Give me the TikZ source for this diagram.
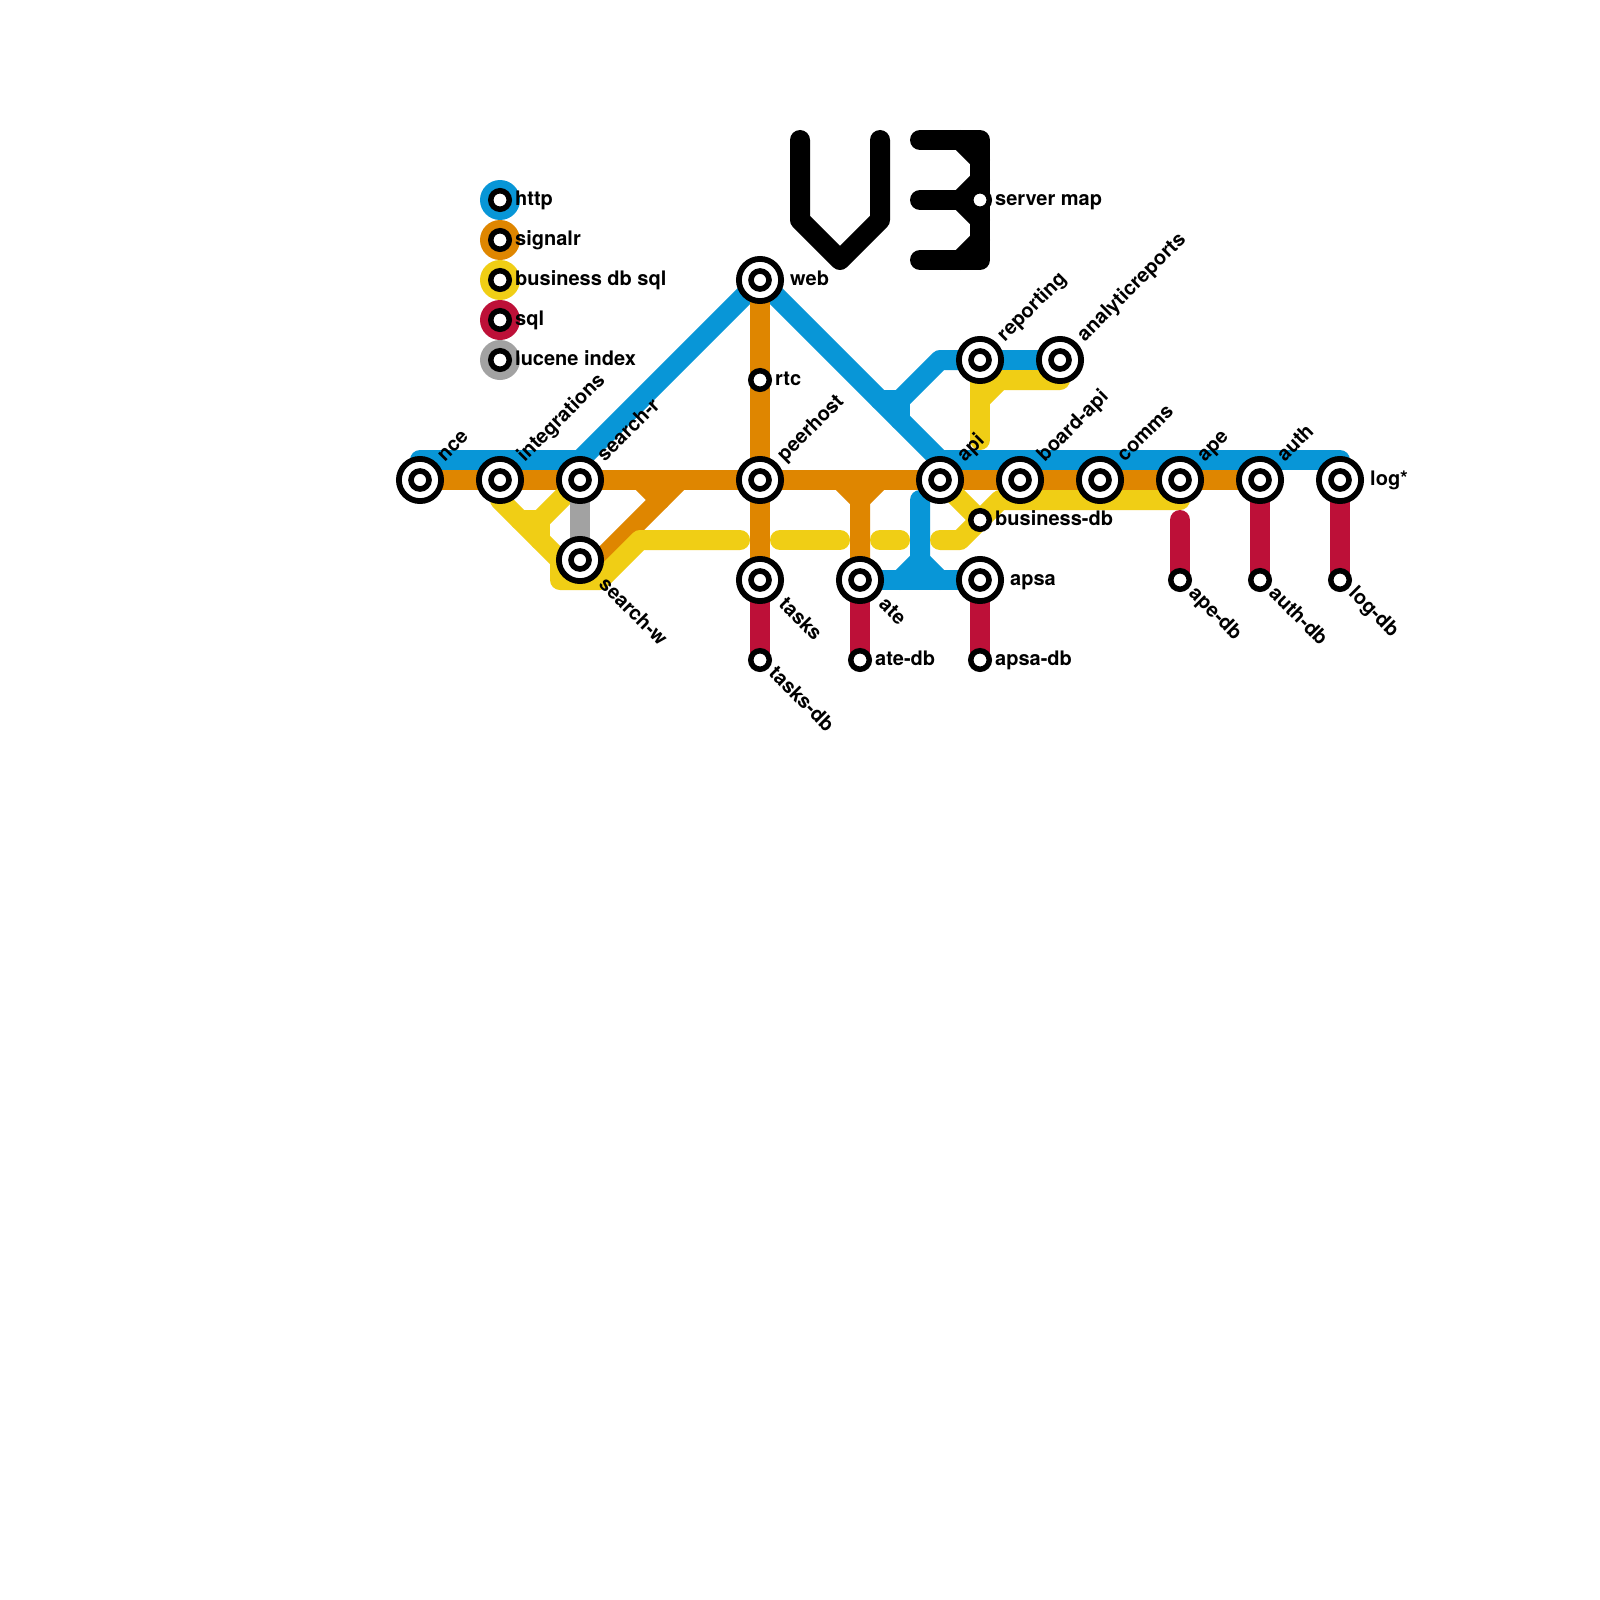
\documentclass[tikz,border=0pt]{standalone}
\usepackage{fontspec}
\setmainfont{TeX Gyre Heros}
\pgfdeclarelayer{lines}
\pgfsetlayers{lines,main}
\definecolor{http}{HTML}{0896D7}
\definecolor{signalr}{HTML}{DF8600}
\definecolor{bizdb}{HTML}{F0CE15}
\definecolor{sqlred}{HTML}{BD1038}
\definecolor{lucene}{HTML}{A2A2A2}
\tikzset{
  route/.style={line width=20pt,line cap=round,line join=round},
  bigstation/.style={circle,draw=black,fill=white,line width=5.8pt,minimum size=42.2pt,inner sep=0pt,
    path picture={\draw[black,line width=5.6pt] (path picture bounding box.center) circle (9pt);}},
  smallstation/.style={circle,draw=black,fill=white,line width=5.5pt,minimum size=18.5pt,inner sep=0pt},
  swatch/.style={circle,fill=#1,minimum size=40pt,inner sep=0pt},
  lbl/.style={font=\bfseries\fontsize{20}{24}\selectfont,inner sep=0pt,anchor=base west,text=black},
  lblup/.style={lbl,rotate=45},
  lbldown/.style={lbl,rotate=-45},
}
\begin{document}
\begin{tikzpicture}[x=1pt,y=-1pt]
\useasboundingbox (0,0) rectangle (1600,1600);
\begin{pgfonlayer}{lines}
\fill[white] (0,0) rectangle (1600,1600);
\end{pgfonlayer}
% big stations
\foreach \n/\x/\y in {nce/420/480,integrations/500/480,searchr/580/480,searchw/580/560,web/760/280,peerhost/760/480,tasks/760/580,ate/860/580,api/940/480,boardapi/1020/480,comms/1100/480,ape/1180/480,auth/1260/480,logs/1340/480,apsa/980/580,reporting/980/360,analytic/1060/360}
  {\node[bigstation] (\n) at (\x,\y) {};}
% small stations
\foreach \n/\x/\y in {rtc/760/380,tasksdb/760/660,atedb/860/660,apsadb/980/660,businessdb/980/520,apedb/1180/580,authdb/1260/580,logdb/1340/580,servermap/980/200}
  {\node[smallstation] (\n) at (\x,\y) {};}
% waypoints
\foreach \n/\x/\y in {
 b1/420/460,b2/580/460,b3/880/400,b4/900/400,b5/900/420,b6/940/360,b7/940/460,b8/1340/460,
 b9/920/500,b10/920/560,b11/900/580,b12/940/580,
 o1/680/480,o2/600/560,o3/640/480,o4/660/500,o5/860/500,o6/840/480,o7/880/480,
 y1/500/500,y2/560/560,y3/560/580,y4/600/580,y5/640/540,y6/740/540,y7/540/520,y8/520/520,y9/540/540,
 y10/780/540,y11/840/540,y12/880/540,y13/900/540,y14/940/540,y15/960/540,y16/1000/500,y17/1180/500,
 y18/980/440,y19/980/400,y20/1000/380,y21/1060/380,
 r1/1180/520,
 k1/800/140,k2/800/220,k3/840/260,k4/880/220,k5/880/140,
 k6/920/140,k7/980/140,k8/980/260,k9/920/260,k10/920/200,k11/960/140,k12/980/160,k13/980/180,k14/960/200,k15/980/220,k16/980/240,k17/960/260}
  {\coordinate (\n) at (\x,\y);}
\begin{pgfonlayer}{lines}
% http
\draw[route,http] (nce.center) -- (b1) -- (b2) -- (web.center) -- (b7) -- (api.center);
\draw[route,http] (b7) -- (b8) -- (logs.center);
\draw[route,http] (analytic.center) -- (b6) -- (b4) -- (b3);
\draw[route,http] (b4) -- (b5);
\draw[route,http] (b9) -- (b10) -- (b11);
\draw[route,http] (b10) -- (b12);
\draw[route,http] (ate.center) -- (apsa.center);
% signalr
\draw[route,signalr] (nce.center) -- (auth.center);
\draw[route,signalr] (web.center) -- (tasks.center);
\draw[route,signalr] (o1) -- (o2) -- (searchw.center);
\draw[route,signalr] (o3) -- (o4);
\draw[route,signalr] (ate.center) -- (o5) -- (o6);
\draw[route,signalr] (o5) -- (o7);
% business db
\draw[route,bizdb] (integrations.center) -- (y1) -- (y2) -- (y3) -- (y4) -- (y5) -- (y6);
\draw[route,bizdb] (searchr.center) -- (y7) -- (y8);
\draw[route,bizdb] (y7) -- (y9);
\draw[route,bizdb] (y10) -- (y11);
\draw[route,bizdb] (y12) -- (y13);
\draw[route,bizdb] (y14) -- (y15) -- (y16) -- (y17) -- (ape.center);
\draw[route,bizdb] (api.center) -- (businessdb.center);
\draw[route,bizdb] (reporting.center) -- (y18);
\draw[route,bizdb] (y19) -- (y20) -- (y21) -- (analytic.center);
% sql
\draw[route,sqlred] (tasks.center) -- (tasksdb.center);
\draw[route,sqlred] (ate.center) -- (atedb.center);
\draw[route,sqlred] (apsa.center) -- (apsadb.center);
\draw[route,sqlred] (r1) -- (apedb.center);
\draw[route,sqlred] (auth.center) -- (authdb.center);
\draw[route,sqlred] (logs.center) -- (logdb.center);
% lucene
\draw[route,lucene] (searchr.center) -- (searchw.center);
% V3
\draw[route,black] (k1) -- (k2) -- (k3) -- (k4) -- (k5);
\draw[route,black] (k6) -- (k7) -- (k8) -- (k9);
\draw[route,black] (k10) -- (servermap.center);
\draw[route,black] (k11) -- (k12);
\draw[route,black] (k13) -- (k14) -- (k15);
\draw[route,black] (k16) -- (k17);
\end{pgfonlayer}
% legend
\foreach \n/\c/\y in {http/http/200,signalr/signalr/240,biz/bizdb/280,sql/sqlred/320,luc/lucene/360}{
  \node[swatch=\c] (sw\n) at (500,\y) {};
  \node[smallstation] (st\n) at (500,\y) {};
}
\node[lbl] (lhttp) at ([shift={(15,5)}]sthttp.center) {http};
\node[lbl] (lsignalr) at ([shift={(15,5)}]stsignalr.center) {signalr};
\node[lbl] (lbiz) at ([shift={(15,5)}]stbiz.center) {business db sql};
\node[lbl] (lsql) at ([shift={(15,5)}]stsql.center) {sql};
\node[lbl] (lluc) at ([shift={(15,5)}]stluc.center) {lucene index};
% horizontal labels
\node[lbl] (tserver) at ([shift={(15,5)}]servermap.center) {server map};
\node[lbl] (tweb) at ([shift={(30,5)}]web.center) {web};
\node[lbl] (trtc) at ([shift={(15,5)}]rtc.center) {rtc};
\node[lbl] (tbiz) at ([shift={(15,5)}]businessdb.center) {business-db};
\node[lbl] (tapsa) at ([shift={(30,5)}]apsa.center) {apsa};
\node[lbl] (tatedb) at ([shift={(15,5)}]atedb.center) {ate-db};
\node[lbl] (tapsadb) at ([shift={(15,5)}]apsadb.center) {apsa-db};
\node[lbl] (tlog) at ([shift={(30,5)}]logs.center) {log*};
% rotated up
\foreach \n/\t in {nce/nce,integrations/integrations,searchr/search-r,peerhost/peerhost,api/api,boardapi/board-api,comms/comms,ape/ape,auth/auth,reporting/reporting,analytic/analyticreports}
  {\node[lblup] (t\n) at ([shift={(24.8,-17.5)}]\n.center) {\t};}
% rotated down
\foreach \n/\t in {searchw/search-w,tasks/tasks,ate/ate}
  {\node[lbldown] (t\n) at ([shift={(17.8,25.5)}]\n.center) {\t};}
\foreach \n/\t in {tasksdb/tasks-db,apedb/ape-db,authdb/auth-db,logdb/log-db}
  {\node[lbldown] (t\n) at ([shift={(7.8,14.5)}]\n.center) {\t};}
\end{tikzpicture}
\end{document}
